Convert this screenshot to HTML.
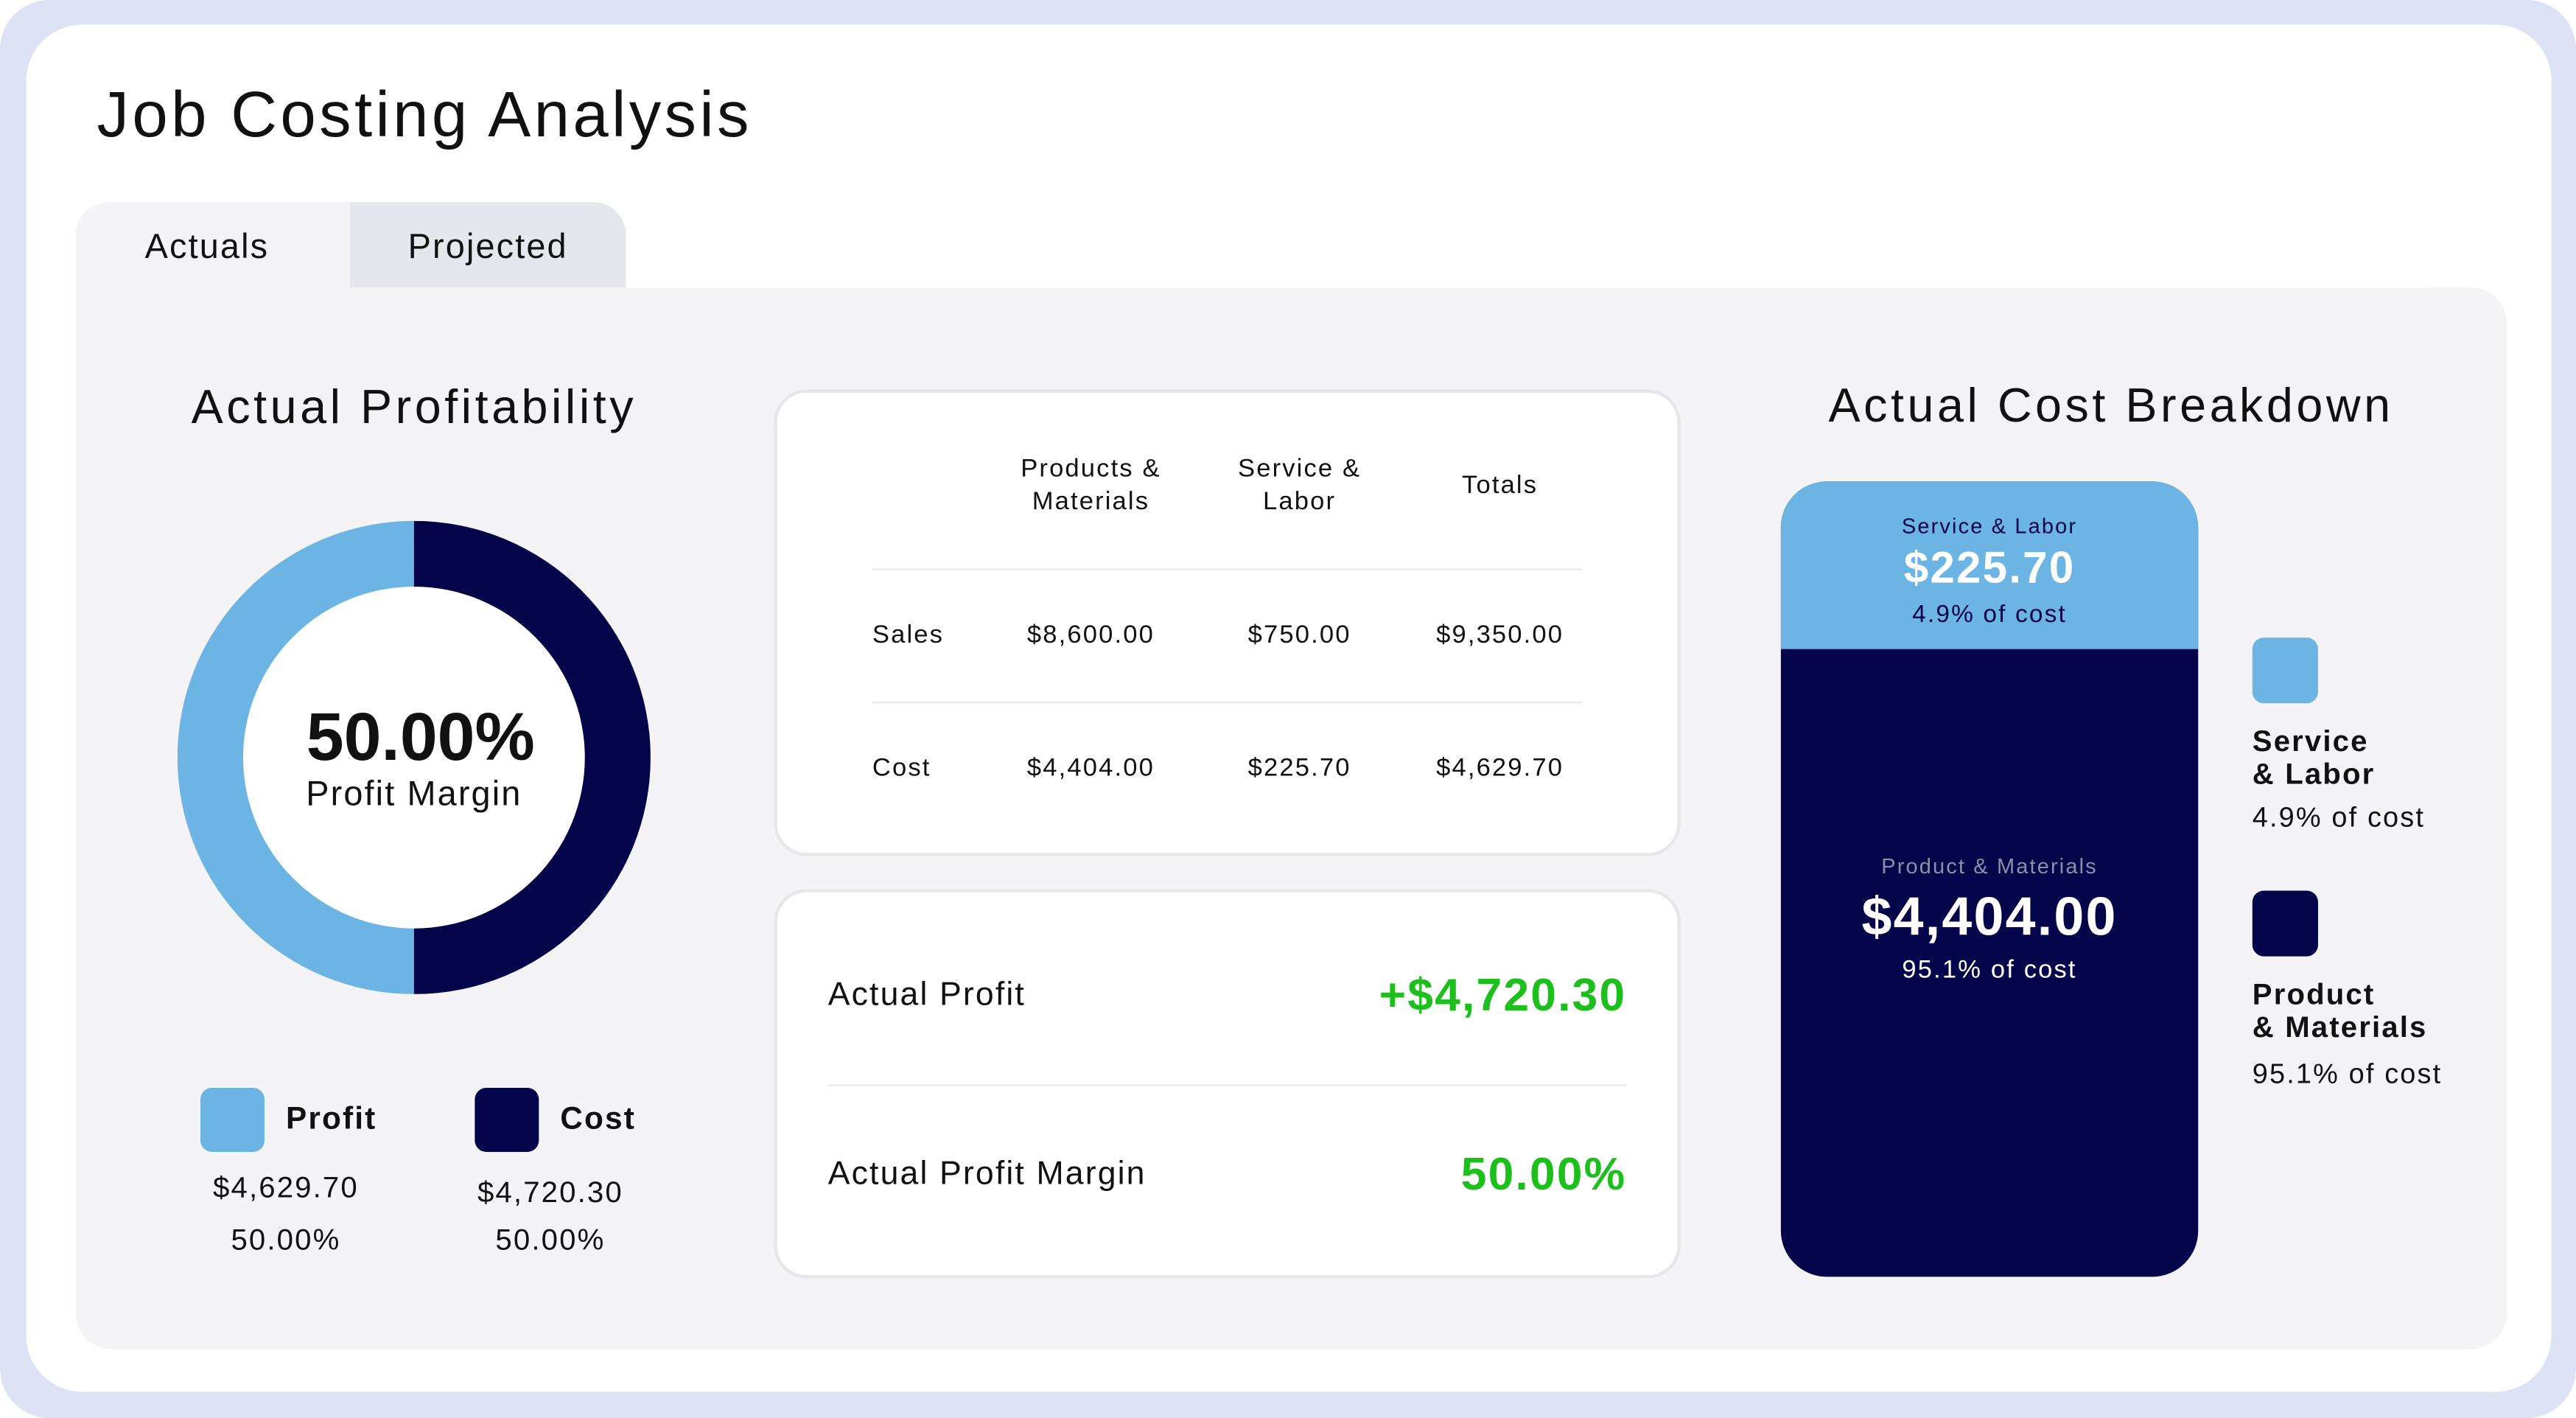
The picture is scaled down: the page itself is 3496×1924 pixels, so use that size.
<!DOCTYPE html>
<html><head><meta charset="utf-8"><style>
html,body{margin:0;padding:0;background:#fff;}
body{width:3496px;height:1924px;overflow:hidden;position:relative;}
#s{position:absolute;left:0;top:0;width:1568px;height:863px;transform:scale(2.2296);transform-origin:0 0;font-family:"Liberation Sans",sans-serif;color:#111;letter-spacing:0.06em;}
.a{position:absolute;white-space:nowrap;}
.c{transform:translate(-50%,-50%);text-align:center;}
.l{transform:translateY(-50%);}
.r{transform:translate(-100%,-50%);}
.b{font-weight:bold;}
</style></head><body><div id="s">
<div class="a" style="left:0;top:0;width:1568px;height:863px;background:#dde3f5;border-radius:30px;"></div>
<div class="a" style="left:16px;top:15px;width:1537px;height:832px;background:#fff;border-radius:34px;"></div>
<div class="a l" style="left:59px;top:71px;font-size:39px;letter-spacing:0.05em;">Job Costing Analysis</div>
<div class="a" style="left:46px;top:123px;width:167px;height:60px;background:#f4f4f6;border-top-left-radius:20px;"></div>
<div class="a" style="left:213px;top:123px;width:168px;height:52px;background:#e6e7ec;border-top-right-radius:20px;"></div>
<div class="a c" style="left:126px;top:151px;font-size:21px;">Actuals</div>
<div class="a c" style="left:297px;top:151px;font-size:21px;">Projected</div>
<div class="a" style="left:46px;top:175px;width:1480px;height:646px;background:#f4f4f6;border-radius:0 22px 22px 22px;"></div>

<div class="a c" style="left:252px;top:249px;font-size:29px;letter-spacing:0.07em;">Actual Profitability</div>
<svg class="a" style="left:108px;top:317px" width="288" height="288" viewBox="0 0 288 288">
<path d="M144 0 A144 144 0 0 0 144 288 Z" fill="#6cb4e4"/>
<path d="M144 0 A144 144 0 0 1 144 288 Z" fill="#03044a"/>
<circle cx="144" cy="144" r="104" fill="#fff"/>
</svg>
<div class="a c b" style="left:256px;top:449px;font-size:41px;letter-spacing:0;">50.00%</div>
<div class="a c" style="left:252px;top:484px;font-size:21px;">Profit Margin</div>
<div class="a" style="left:122px;top:662px;width:39px;height:39px;background:#6cb4e4;border-radius:7px;"></div>
<div class="a l b" style="left:174px;top:682px;font-size:19px;">Profit</div>
<div class="a" style="left:289px;top:662px;width:39px;height:39px;background:#03044a;border-radius:7px;"></div>
<div class="a l b" style="left:341px;top:682px;font-size:19px;">Cost</div>
<div class="a c" style="left:174px;top:723px;font-size:18px;">$4,629.70</div>
<div class="a c" style="left:174px;top:755px;font-size:18px;">50.00%</div>
<div class="a c" style="left:335px;top:726px;font-size:18px;">$4,720.30</div>
<div class="a c" style="left:335px;top:755px;font-size:18px;">50.00%</div>

<div class="a" style="left:471px;top:237px;width:548px;height:280px;background:#fff;border:2px solid #e6e7eb;border-radius:20px;"></div>
<div class="a c" style="left:664px;top:296px;font-size:15.5px;line-height:20px;">Products &amp;<br>Materials</div>
<div class="a c" style="left:791px;top:296px;font-size:15.5px;line-height:20px;">Service &amp;<br>Labor</div>
<div class="a c" style="left:913px;top:296px;font-size:15.5px;">Totals</div>
<div class="a" style="left:531px;top:346px;width:432px;height:1px;background:#e8e8ec;"></div>
<div class="a l" style="left:531px;top:387px;font-size:15.5px;">Sales</div>
<div class="a c" style="left:664px;top:387px;font-size:15.5px;">$8,600.00</div>
<div class="a c" style="left:791px;top:387px;font-size:15.5px;">$750.00</div>
<div class="a c" style="left:913px;top:387px;font-size:15.5px;">$9,350.00</div>
<div class="a" style="left:531px;top:427px;width:432px;height:1px;background:#e8e8ec;"></div>
<div class="a l" style="left:531px;top:468px;font-size:15.5px;">Cost</div>
<div class="a c" style="left:664px;top:468px;font-size:15.5px;">$4,404.00</div>
<div class="a c" style="left:791px;top:468px;font-size:15.5px;">$225.70</div>
<div class="a c" style="left:913px;top:468px;font-size:15.5px;">$4,629.70</div>

<div class="a" style="left:471px;top:541px;width:548px;height:233px;background:#fff;border:2px solid #e6e7eb;border-radius:20px;"></div>
<div class="a l" style="left:504px;top:606px;font-size:20px;">Actual Profit</div>
<div class="a r b" style="left:990px;top:606px;font-size:28px;color:#1dbf1d;">+$4,720.30</div>
<div class="a" style="left:504px;top:660px;width:486px;height:1px;background:#e8e8ec;"></div>
<div class="a l" style="left:504px;top:715px;font-size:20px;">Actual Profit Margin</div>
<div class="a r b" style="left:990px;top:715px;font-size:28px;color:#1dbf1d;">50.00%</div>

<div class="a c" style="left:1285px;top:248px;font-size:29px;letter-spacing:0.07em;">Actual Cost Breakdown</div>
<div class="a" style="left:1084px;top:293px;width:254px;height:484px;background:#03044a;border-radius:28px;overflow:hidden;">
<div style="height:102px;background:#6cb4e4;"></div></div>
<div class="a c" style="left:1211px;top:320px;font-size:13px;color:#03044a;">Service &amp; Labor</div>
<div class="a c b" style="left:1211px;top:346px;font-size:27px;color:#fff;">$225.70</div>
<div class="a c" style="left:1211px;top:374px;font-size:15px;color:#03044a;">4.9% of cost</div>
<div class="a c" style="left:1211px;top:527px;font-size:13px;color:#8d8fa8;">Product &amp; Materials</div>
<div class="a c b" style="left:1211px;top:558px;font-size:33px;color:#fff;letter-spacing:0.03em;">$4,404.00</div>
<div class="a c" style="left:1211px;top:591px;font-size:15.5px;color:#fff;">95.1% of cost</div>

<div class="a" style="left:1371px;top:388px;width:40px;height:40px;background:#6cb4e4;border-radius:7px;"></div>
<div class="a b" style="left:1371px;top:441px;font-size:18px;line-height:20px;">Service<br>&amp; Labor</div>
<div class="a l" style="left:1371px;top:498px;font-size:17px;">4.9% of cost</div>
<div class="a" style="left:1371px;top:542px;width:40px;height:40px;background:#03044a;border-radius:7px;"></div>
<div class="a b" style="left:1371px;top:595px;font-size:18px;line-height:20px;">Product<br>&amp; Materials</div>
<div class="a l" style="left:1371px;top:654px;font-size:17px;">95.1% of cost</div>
</div></body></html>
